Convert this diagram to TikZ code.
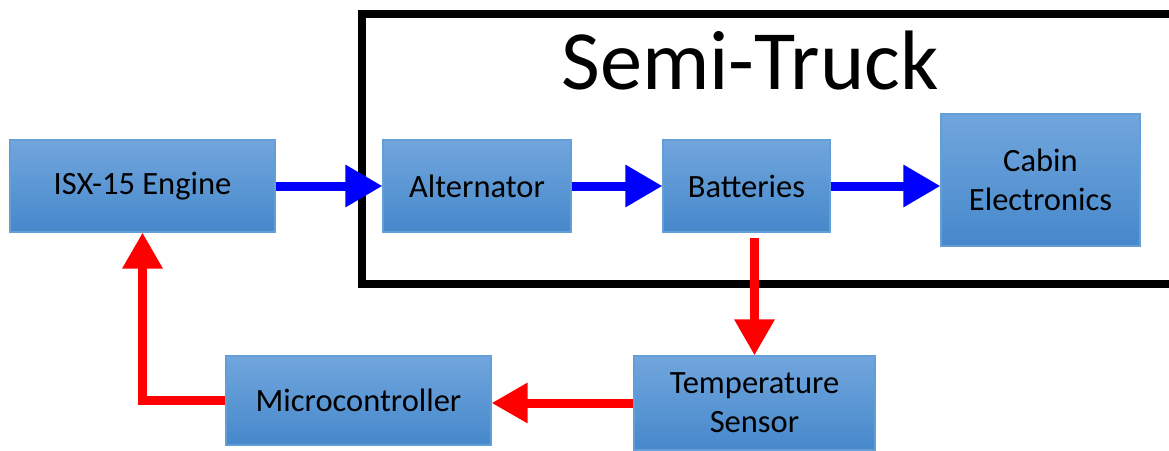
\documentclass[tikz,border=0pt]{standalone}
\usepackage{fontspec}
\setmainfont{Carlito}
\usetikzlibrary{arrows.meta, positioning, calc}
\definecolor{blkTop}{RGB}{113,166,221}
\definecolor{blkBot}{RGB}{70,136,203}
\definecolor{blkEdge}{RGB}{100,158,215}
\definecolor{flowBlue}{RGB}{0,0,255}
\definecolor{flowRed}{RGB}{255,0,0}

\begin{document}
\begin{tikzpicture}[
    blockbox/.style={draw=blkEdge, line width=0.6pt, top color=blkTop, bottom color=blkBot,
                     align=center, inner sep=0pt, font=\fontsize{18.5}{22}\selectfont},
    powerarrow/.style={draw=flowBlue, line width=0.18cm,
                       -{Triangle[length=0.74cm, width=0.8cm]}},
    feedarrow/.style={draw=flowRed, line width=0.18cm,
                      -{Triangle[length=0.72cm, width=0.76cm]}}]
\useasboundingbox (0,0) rectangle (23.38,9);
\clip (0,0) rectangle (23.38,9);

% Semi-truck frame
\draw[line width=0.16cm] (23.6,8.72) -- (7.24,8.72) -- (7.24,3.32) -- (23.6,3.32);
\node[font=\fontsize{48}{54}\selectfont] (title) at (15.0,7.78) {Semi-Truck};

% Blocks
\node[blockbox, minimum width=5.3cm,  minimum height=1.84cm] (engine) at (2.85,5.28)  {ISX-15 Engine};
\node[blockbox, minimum width=3.76cm, minimum height=1.84cm] (alt)    at (9.54,5.28)  {Alternator};
\node[blockbox, minimum width=3.34cm, minimum height=1.84cm] (batt)   at (14.93,5.28) {Batteries};
\node[blockbox, minimum width=3.98cm, minimum height=2.64cm] (cabin)  at (20.81,5.4)  {Cabin\\Electronics};
\node[blockbox, minimum width=5.3cm,  minimum height=1.78cm] (micro)  at (7.17,0.99)  {Microcontroller};
\node[blockbox, minimum width=4.82cm, minimum height=1.88cm] (tsens)  at (15.09,0.94) {Temperature\\Sensor};

% Power flow
\draw[powerarrow] (engine.east) -- (alt.west);
\draw[powerarrow] (alt.east) -- (batt.west);
\draw[powerarrow] (batt.east) -- (batt.east -| cabin.west);

% Feedback loop
\draw[feedarrow] ([yshift=-0.1cm]batt.south -| tsens.north) -- (tsens.north);
\draw[feedarrow] (tsens.west) -- (tsens.west -| micro.east);
\draw[feedarrow] (micro.west) -| (engine.south);

\end{tikzpicture}
\end{document}
